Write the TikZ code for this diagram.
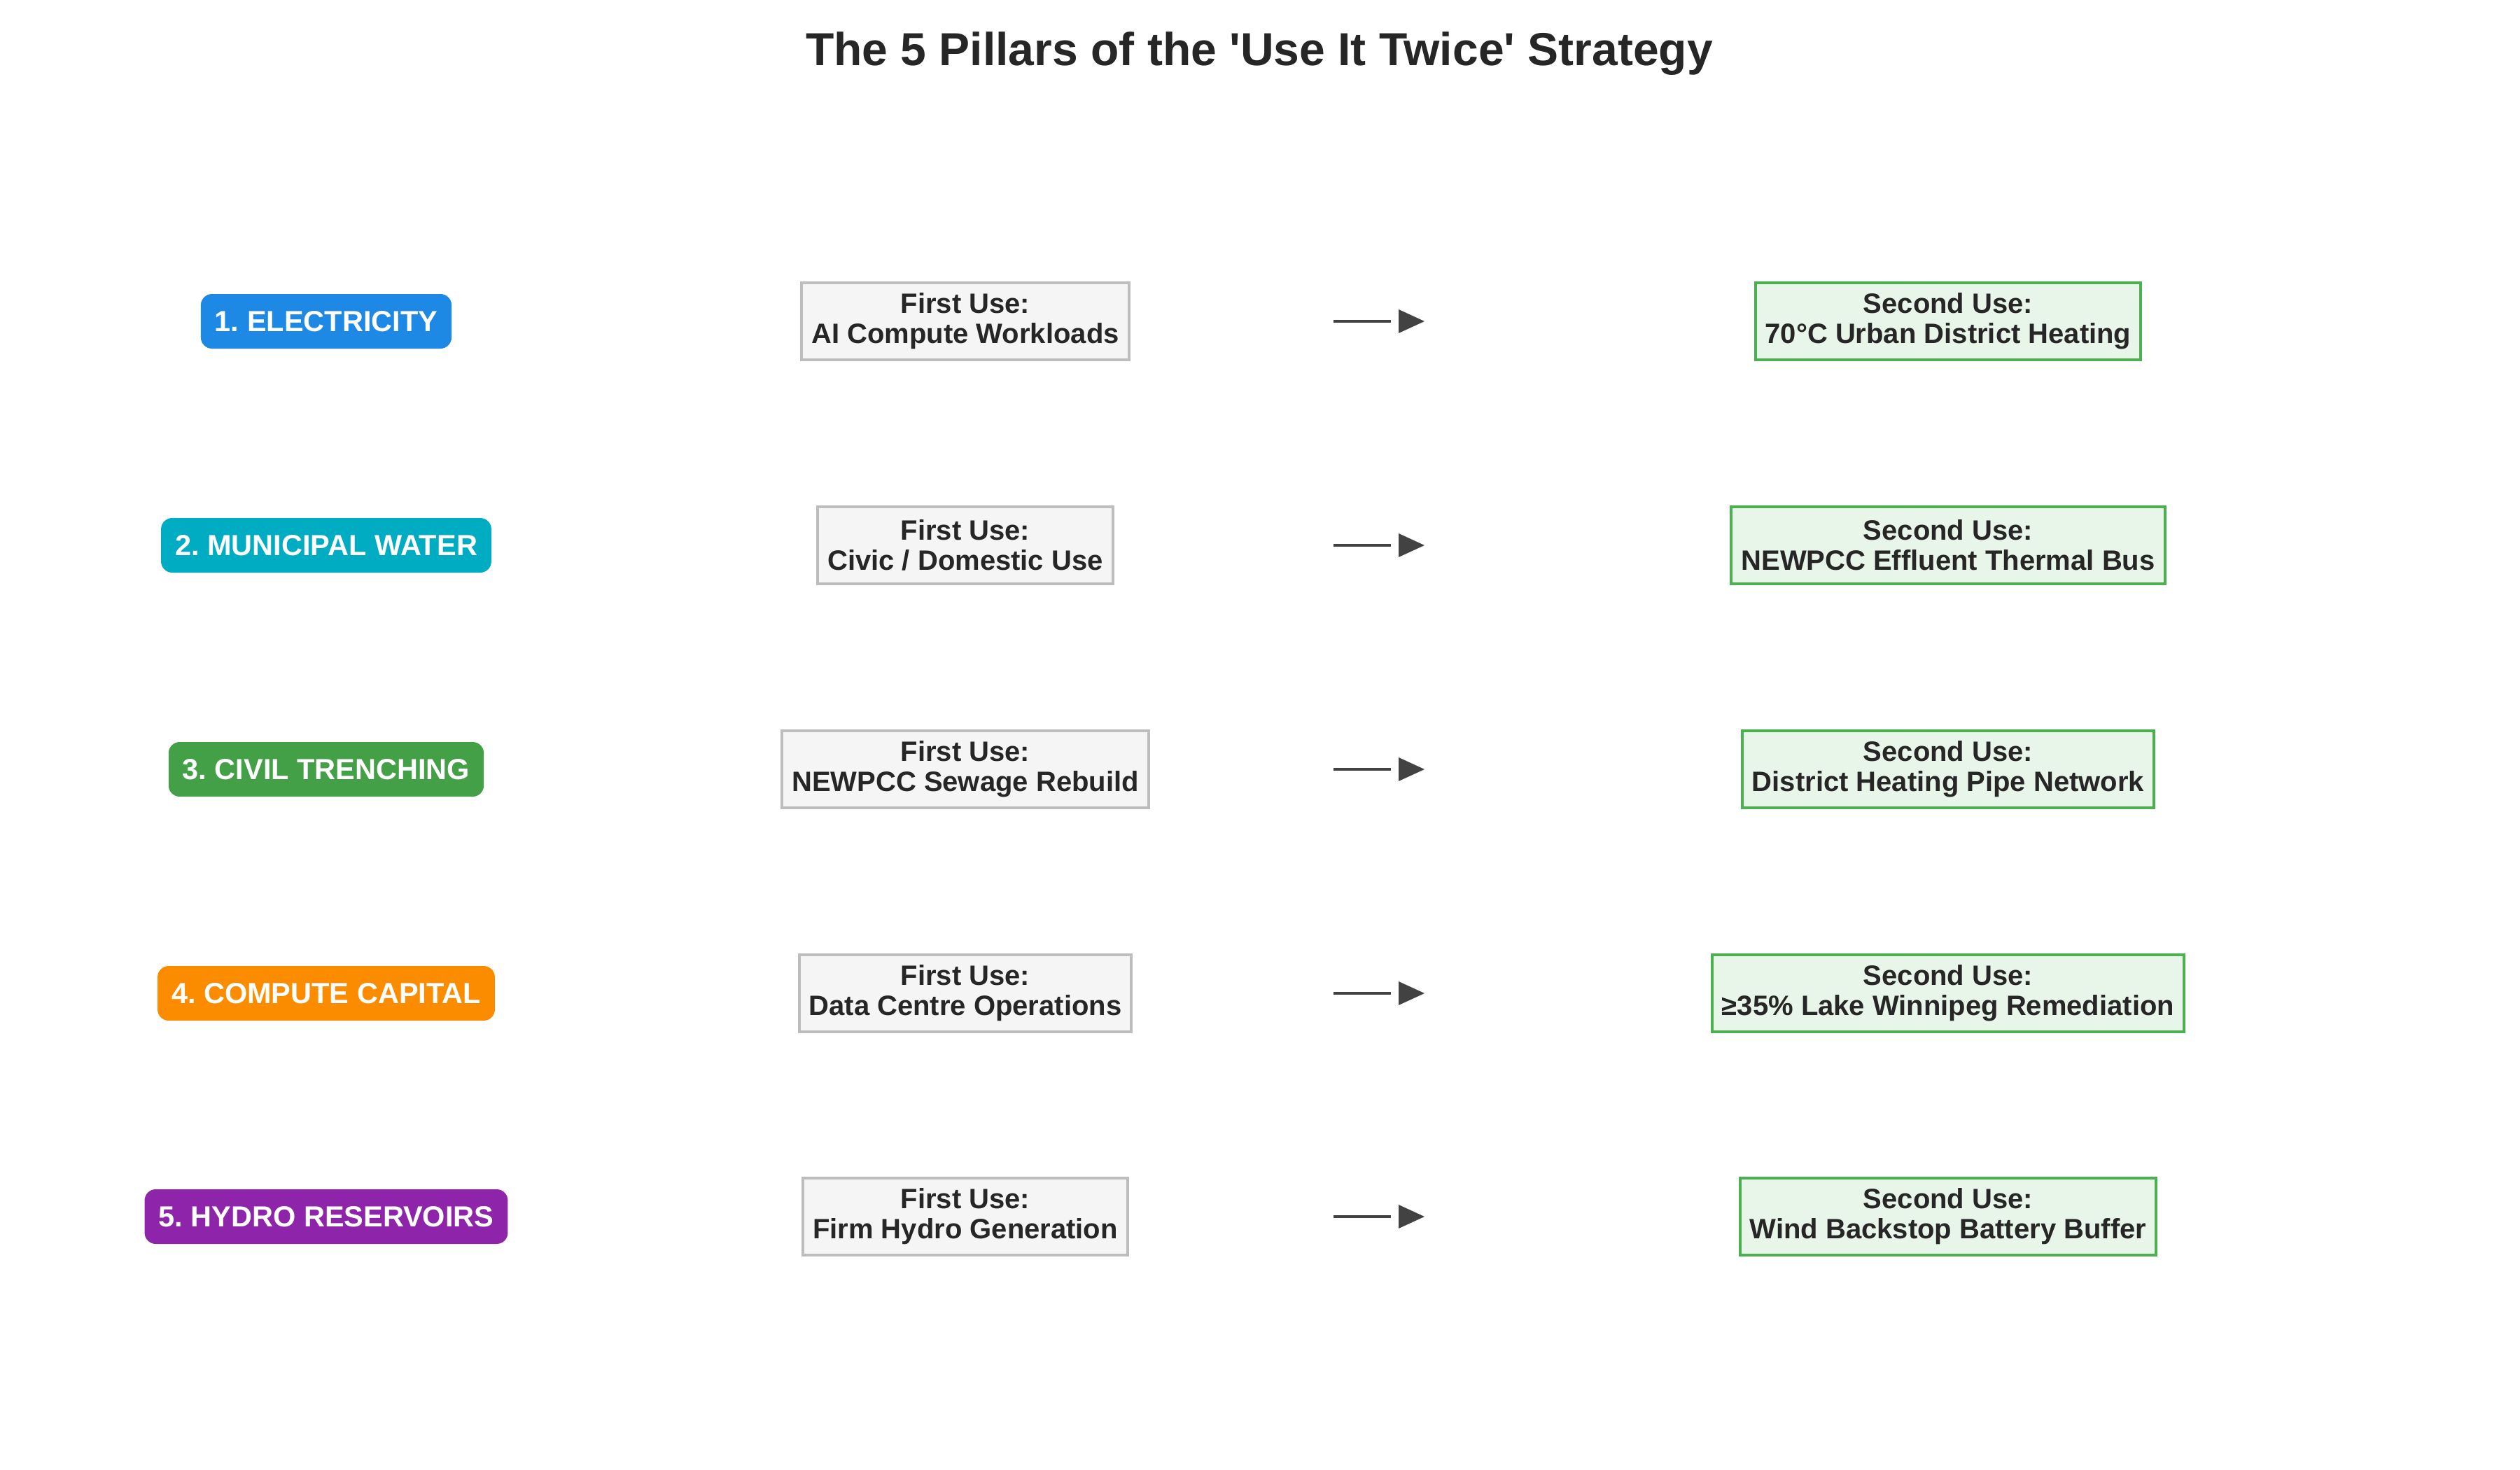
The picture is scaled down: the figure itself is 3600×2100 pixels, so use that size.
\documentclass[tikz,border=0pt]{standalone}
\usepackage{fontspec}
\setmainfont{Liberation Sans}
\frenchspacing
\definecolor{txt}{HTML}{262626}
\definecolor{pblue}{HTML}{1E88E5}
\definecolor{pcyan}{HTML}{00ACC1}
\definecolor{pgreen}{HTML}{43A047}
\definecolor{porange}{HTML}{FB8C00}
\definecolor{ppurple}{HTML}{8E24AA}
\definecolor{firstfill}{HTML}{F5F5F5}
\definecolor{firstdraw}{HTML}{BDBDBD}
\definecolor{secfill}{HTML}{E8F5E9}
\definecolor{secdraw}{HTML}{4CAF50}
\definecolor{arr}{HTML}{424242}
\begin{document}
\begin{tikzpicture}[x=1pt,y=-1pt,
  pill/.style={rounded corners=16pt, text=white, inner xsep=20pt, inner ysep=0pt,
    minimum height=78pt, font=\fontsize{41.5}{46}\selectfont\bfseries},
  firstbox/.style={draw=firstdraw, fill=firstfill, line width=4pt, align=center,
    text=txt, inner xsep=14pt, inner ysep=0pt, minimum height=110pt,
    font=\fontsize{40}{43}\selectfont\bfseries},
  secbox/.style={firstbox, draw=secdraw, fill=secfill},
  arrline/.style={draw=arr, line width=4pt},
  arrhead/.style={fill=arr}]
\fill[white] (0,0) rectangle (3600,2100);
\useasboundingbox (0,0) rectangle (3600,2100);
\node[text=txt, font=\fontsize{66}{72}\selectfont\bfseries] (title) at (1799,77) {The 5 Pillars of the \textquotesingle Use It Twice\textquotesingle{} Strategy};
\foreach \i/\y/\col/\lab/\fa/\sa in {
  1/459/pblue/{1. ELECTRICITY}/{AI Compute Workloads}/{70°C Urban District Heating},
  2/779/pcyan/{2. MUNICIPAL WATER}/{Civic / Domestic Use}/{NEWPCC Effluent Thermal Bus},
  3/1099/pgreen/{3. CIVIL TRENCHING}/{NEWPCC Sewage Rebuild}/{District Heating Pipe Network},
  4/1419/porange/{4. COMPUTE CAPITAL}/{Data Centre Operations}/{≥35\% Lake Winnipeg Remediation},
  5/1738/ppurple/{5. HYDRO RESERVOIRS}/{Firm Hydro Generation}/{Wind Backstop Battery Buffer}}{
  \node[pill, fill=\col] (pill\i) at (466,\y) {\lab};
  \node[firstbox] (first\i) at (1379,\y) {First Use:\\\fa};
  \node[secbox] (second\i) at (2783,\y) {Second Use:\\\sa};
  \coordinate (a\i) at (1905,\y);
  \coordinate (b\i) at (1987,\y);
  \coordinate (h\i) at (1998,\y);
  \draw[arrline] (a\i) -- (b\i);
  \fill[arrhead] ([yshift=-17pt]h\i) -- ([xshift=37pt]h\i) -- ([yshift=17pt]h\i) -- cycle;
}
\end{tikzpicture}
\end{document}
